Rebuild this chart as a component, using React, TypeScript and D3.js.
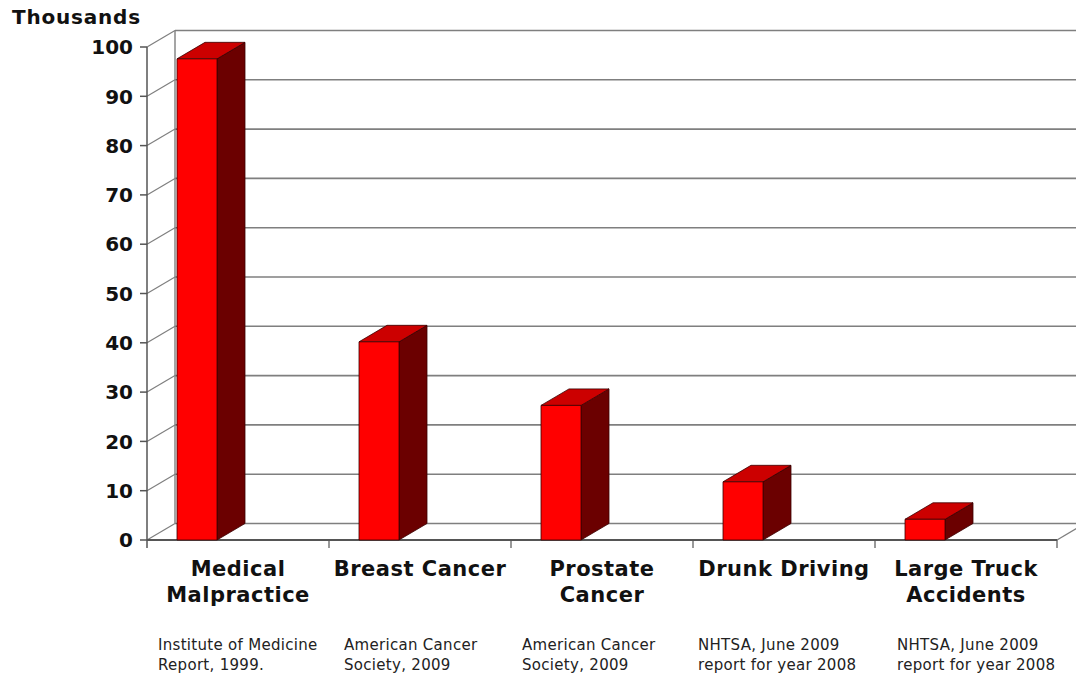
import React from "react";
import * as d3 from "d3";

const categories = ["Medical Malpractice", "Breast Cancer", "Prostate Cancer", "Drunk Driving", "Large Truck Accidents"];
const labelLines = [["Medical", "Malpractice"], ["Breast Cancer"], ["Prostate", "Cancer"], ["Drunk Driving"], ["Large Truck", "Accidents"]];
const values = [97.6, 40.2, 27.3, 11.8, 4.2];
const sources = [
  ["Institute of Medicine", "Report, 1999."],
  ["American Cancer", "Society, 2009"],
  ["American Cancer", "Society, 2009"],
  ["NHTSA, June 2009", "report for year 2008"],
  ["NHTSA, June 2009", "report for year 2008"],
];
const sourceOffsets = [11, 15, 11, 5, 22];
const yTicks = [0, 10, 20, 30, 40, 50, 60, 70, 80, 90, 100];

export default function App() {
  const W = 1076, H = 677;
  const x0 = 147, x1 = 1057;
  const dx = 28, dy = -16.5;
  const y = d3.scaleLinear().domain([0, 100]).range([540, 47]);
  const x = d3.scaleBand().domain(categories).range([x0, x1]).paddingInner(0).paddingOuter(0);
  const bw = x.bandwidth();
  const barW = 40;
  const barOff = 30;
  const grid = "#7f7f7f";
  const font = "'DejaVu Sans', Verdana, sans-serif";
  const pts = (p: number[][]) => p.map((d) => d.join(",")).join(" ");

  return (
    <svg width={W} height={H} style={{ position: "absolute", left: 0, top: 0, background: "#fff" }}>
      <rect x={0} y={0} width={W} height={H} fill="#fff" />
      {/* back wall gridlines */}
      {yTicks.map((t) => (
        <g key={"g" + t}>
          <line x1={x0 + dx} x2={x1 + dx} y1={y(t) + dy} y2={y(t) + dy} stroke={grid} strokeWidth={1.6} />
          <line x1={x0} x2={x0 + dx} y1={y(t)} y2={y(t) + dy} stroke={grid} strokeWidth={1.2} />
          <line x1={x0 - 7} x2={x0} y1={y(t)} y2={y(t)} stroke="#555" strokeWidth={1.5} />
          <text x={133} y={y(t)} dy="0.36em" textAnchor="end" fontFamily={font} fontWeight="bold" fontSize={20} fill="#111">{t}</text>
        </g>
      ))}
      {/* back wall left edge */}
      <line x1={x0 + dx} x2={x0 + dx} y1={y(100) + dy} y2={y(0) + dy} stroke={grid} strokeWidth={1.4} />
      {/* floor */}
      <line x1={x1} x2={x1 + dx} y1={y(0)} y2={y(0) + dy} stroke={grid} strokeWidth={1.4} />
      <line x1={x0} x2={x1} y1={y(0)} y2={y(0)} stroke="#555" strokeWidth={1.8} />
      {/* front axis */}
      <line x1={x0} x2={x0} y1={y(100)} y2={y(0) + 8} stroke="#555" strokeWidth={1.5} />
      {/* category ticks */}
      {categories.map((c) => (
        <line key={"t" + c} x1={(x(c) as number) + bw} x2={(x(c) as number) + bw} y1={y(0)} y2={y(0) + 8} stroke="#555" strokeWidth={1.2} />
      ))}
      {/* bars */}
      {categories.map((c, i) => {
        const bx = (x(c) as number) + barOff;
        const bt = y(values[i]);
        const bb = y(0);
        return (
          <g key={"b" + c} stroke="#3a0000" strokeWidth={0.8} strokeLinejoin="round">
            <polygon points={pts([[bx + barW, bt], [bx + barW + dx, bt + dy], [bx + barW + dx, bb + dy], [bx + barW, bb]])} fill="#6b0000" />
            <polygon points={pts([[bx, bt], [bx + barW, bt], [bx + barW + dx, bt + dy], [bx + dx, bt + dy]])} fill="#cc0000" />
            <rect x={bx} y={bt} width={barW} height={bb - bt} fill="#ff0000" />
          </g>
        );
      })}
      {/* category labels */}
      {categories.map((c, i) => (
        <text key={"l" + c} x={(x(c) as number) + bw / 2} y={576} textAnchor="middle" fontFamily={font} fontWeight="bold" fontSize={21} letterSpacing={0.5} fill="#111">
          {labelLines[i].map((ln, j) => (
            <tspan key={j} x={(x(c) as number) + bw / 2} dy={j === 0 ? 0 : 26}>{ln}</tspan>
          ))}
        </text>
      ))}
      {/* sources */}
      {categories.map((c, i) => (
        <text key={"s" + c} y={650} fontFamily={font} fontSize={15} letterSpacing={0.3} fill="#222">
          {sources[i].map((ln, j) => (
            <tspan key={j} x={(x(c) as number) + sourceOffsets[i]} dy={j === 0 ? 0 : 20}>{ln}</tspan>
          ))}
        </text>
      ))}
      <text x={12} y={24} fontFamily={font} fontWeight="bold" fontSize={20} letterSpacing={0.8} fill="#111">Thousands</text>
    </svg>
  );
}
